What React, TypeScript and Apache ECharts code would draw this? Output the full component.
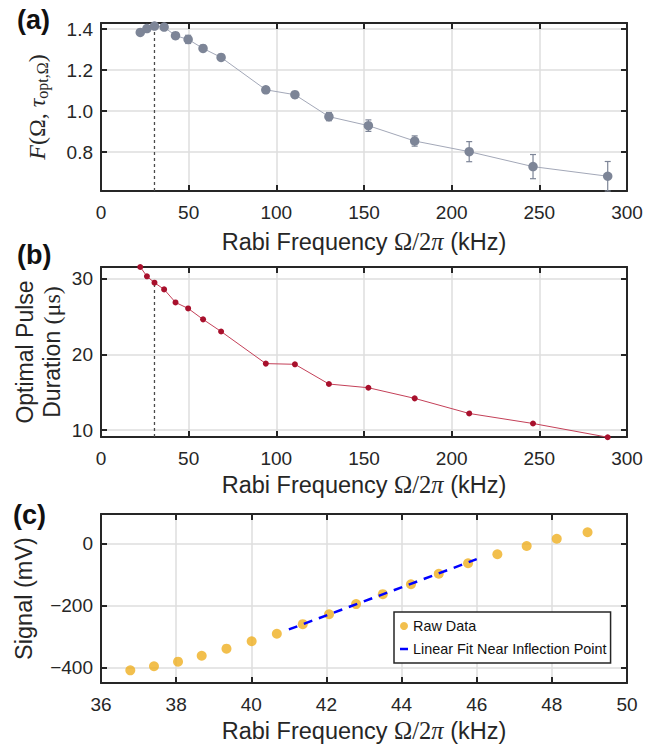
import React, { useEffect, useRef } from "react";
import * as echarts from "echarts";

// Panel (a)/(b): Rabi frequency (kHz)
const freqA = [22.4, 26.2, 30.5, 36.0, 42.5, 49.7, 58.2, 68.5, 94.0, 110.6, 130.0, 152.5, 178.9, 210.0, 246.4, 289.0];
const fidelity = [1.384, 1.403, 1.415, 1.41, 1.368, 1.35, 1.306, 1.262, 1.104, 1.08, 0.973, 0.929, 0.854, 0.802, 0.729, 0.682];
const fidErr = [0.01, 0.008, 0.008, 0.01, 0.015, 0.02, 0.015, 0.012, 0.015, 0.015, 0.02, 0.028, 0.025, 0.049, 0.059, 0.072];
const pulse = [31.5, 30.27, 29.43, 28.55, 26.83, 26.04, 24.6, 23.0, 18.77, 18.68, 16.08, 15.59, 14.19, 12.2, 10.88, 9.07];
const optIndex = 2; // optimum marked with dashed line

// Panel (c)
const sigF = [36.78, 37.41, 38.05, 38.68, 39.34, 40.01, 40.68, 41.37, 42.07, 42.79, 43.5, 44.25, 44.99, 45.77, 46.55, 47.33, 48.13, 48.95];
const sigV = [-409, -396, -381, -362, -339, -315, -291, -260, -228, -195, -163, -131, -97, -63, -34, -7.5, 16, 37];
const fitF = [41.0, 46.0];
const fitV = [-277, -50];

// Axis extents
const xA = [0, 300];
const yA = [0.61, 1.43];
const yB = [9.1, 31.5];
const xC = [36, 50];
const yC = [-450, 96];

const FONT = "'Liberation Sans', Arial, Helvetica, sans-serif";
const SERIF = "'Liberation Serif', 'DejaVu Serif', serif";
const INK = "#262626";
const GRIDC = "#dedede";
const NAME_SIZE = 23.5;

function axisX(gi: number, min: number, max: number, interval: number, top: boolean, name?: any, rich?: any, nameGap = 40) {
  return {
    type: "value",
    gridIndex: gi,
    position: top ? "top" : "bottom",
    min,
    max,
    interval,
    axisLine: { show: true, onZero: false, lineStyle: { color: INK, width: 2 } },
    axisTick: { show: true, inside: true, length: 6, lineStyle: { color: INK, width: 2 } },
    axisLabel: { show: !top, color: INK, fontSize: 19, fontFamily: FONT, margin: 12 },
    splitLine: { show: !top, lineStyle: { color: GRIDC, width: 1.5 } },
    name: top ? "" : name,
    nameLocation: "middle",
    nameGap,
    nameMoveOverlap: false,
    nameTextStyle: { color: INK, fontSize: NAME_SIZE, fontFamily: FONT, rich },
  };
}

function axisY(gi: number, min: number, max: number, split: number, right: boolean, fmt?: (v: number) => string, name?: any, rich?: any, nameGap = 50, lineHeight = 27) {
  return {
    type: "value",
    gridIndex: gi,
    position: right ? "right" : "left",
    min,
    max,
    splitNumber: split,
    axisLine: { show: true, onZero: false, lineStyle: { color: INK, width: 2 } },
    axisTick: { show: true, inside: true, length: 6, lineStyle: { color: INK, width: 2 } },
    axisLabel: {
      show: !right,
      showMinLabel: false,
      showMaxLabel: false,
      color: INK,
      fontSize: 19,
      fontFamily: FONT,
      margin: 8,
      formatter: fmt,
    },
    splitLine: { show: !right, lineStyle: { color: GRIDC, width: 1.5 } },
    name: right ? "" : name,
    nameLocation: "middle",
    nameRotate: 90,
    nameGap,
    nameMoveOverlap: false,
    nameTextStyle: { color: INK, fontSize: NAME_SIZE, fontFamily: FONT, lineHeight, rich },
  };
}

const xName = "{a|Rabi Frequency }{s|Ω/2}{p|π}{a| (kHz)}";
const xRich = {
  a: { fontFamily: FONT, fontSize: NAME_SIZE, color: INK },
  s: { fontFamily: SERIF, fontSize: 24.5, color: INK },
  p: { fontFamily: SERIF, fontSize: 24.5, fontStyle: "italic", color: INK },
};

export default function App() {
  const ref = useRef<HTMLDivElement>(null);
  useEffect(() => {
    const chart = echarts.init(ref.current!, null, { renderer: "svg" });
    const errData = freqA.map((f, i) => [f, fidelity[i] - fidErr[i], fidelity[i] + fidErr[i]]);
    const gridBase = { containLabel: false, outerBoundsMode: "none" };
    const option: any = {
      animation: false,
      backgroundColor: "#ffffff",
      textStyle: { fontFamily: FONT },
      grid: [
        { ...gridBase, left: 101, top: 23, width: 526, height: 168 },
        { ...gridBase, left: 101, top: 267, width: 526, height: 170 },
        { ...gridBase, left: 101, top: 514, width: 526, height: 169 },
      ],
      xAxis: [
        axisX(0, xA[0], xA[1], 50, false, xName, xRich, 38),
        axisX(0, xA[0], xA[1], 50, true),
        axisX(1, xA[0], xA[1], 50, false, xName, xRich, 35),
        axisX(1, xA[0], xA[1], 50, true),
        axisX(2, xC[0], xC[1], 2, false, xName, xRich, 35),
        axisX(2, xC[0], xC[1], 2, true),
      ],
      yAxis: [
        axisY(0, yA[0], yA[1], 4, false, (v: number) => v.toFixed(1),
          "{i|F}{r|(Ω, }{i|τ}{s|opt,Ω}{r|)}",
          {
            i: { fontFamily: SERIF, fontStyle: "italic", fontSize: 24, color: INK },
            r: { fontFamily: SERIF, fontSize: 24, color: INK },
            s: { fontFamily: SERIF, fontSize: 16, color: INK, verticalAlign: "bottom", padding: [11, 0, 0, 0] },
          }, 51),
        axisY(0, yA[0], yA[1], 4, true),
        axisY(1, yB[0], yB[1], 2, false, (v: number) => String(v),
          "{a|Optimal Pulse}\n{a|Duration }{m|(μs)}",
          {
            a: { fontFamily: FONT, fontSize: 23, color: INK, lineHeight: 27 },
            m: { fontFamily: SERIF, fontSize: 24, color: INK, lineHeight: 27 },
          }, 36, 27),
        axisY(1, yB[0], yB[1], 2, true),
        axisY(2, yC[0], yC[1], 3, false, (v: number) => String(v).replace("-", "\u2212"),
          "Signal (mV)", undefined, 64),
        axisY(2, yC[0], yC[1], 3, true),
      ],
      legend: {
        left: 394,
        top: 612,
        orient: "vertical",
        data: [
          { name: "Raw Data", icon: "circle" },
          { name: "Linear Fit Near Inflection Point", icon: "path://M0,0H8V2.5H0Z" },
        ],
        itemWidth: 8,
        itemHeight: 8,
        itemGap: 9,
        borderColor: INK,
        borderWidth: 1.5,
        borderRadius: 0,
        backgroundColor: "#ffffff",
        padding: [7, 4, 7, 6],
        textStyle: { fontSize: 14.4, fontFamily: FONT, color: "#111" },
      },
      graphic: [
        { type: "text", left: 17, top: 6, style: { text: "(a)", fontSize: 27, fontWeight: "bold", fontFamily: FONT, fill: "#111" } },
        { type: "text", left: 17, top: 241, style: { text: "(b)", fontSize: 27, fontWeight: "bold", fontFamily: FONT, fill: "#111" } },
        { type: "text", left: 13, top: 501, style: { text: "(c)", fontSize: 27, fontWeight: "bold", fontFamily: FONT, fill: "#111" } },
      ],
      series: [
        // (a) dashed marker
        {
          type: "line",
          xAxisIndex: 0,
          yAxisIndex: 0,
          data: [[freqA[optIndex], yA[0]], [freqA[optIndex], fidelity[optIndex]]],
          symbol: "none",
          lineStyle: { color: "#4a4a4a", width: 1.3, type: [3, 3] },
          z: 2,
          silent: true,
        },
        {
          type: "custom",
          xAxisIndex: 0,
          yAxisIndex: 0,
          data: errData,
          encode: { x: 0, y: [1, 2] },
          clip: false,
          z: 3,
          renderItem: (params: any, api: any) => {
            const x = api.value(0);
            const p1 = api.coord([x, api.value(1)]);
            const p2 = api.coord([x, api.value(2)]);
            const style = { stroke: "#7d8597", lineWidth: 1.2 };
            return {
              type: "group",
              children: [
                { type: "line", shape: { x1: p1[0], y1: p1[1], x2: p2[0], y2: p2[1] }, style },
                { type: "line", shape: { x1: p1[0] - 3, y1: p1[1], x2: p1[0] + 3, y2: p1[1] }, style },
                { type: "line", shape: { x1: p2[0] - 3, y1: p2[1], x2: p2[0] + 3, y2: p2[1] }, style },
              ],
            };
          },
        },
        {
          type: "line",
          xAxisIndex: 0,
          yAxisIndex: 0,
          data: freqA.map((f, i) => [f, fidelity[i]]),
          symbol: "circle",
          symbolSize: 9.5,
          itemStyle: { color: "#7d8597" },
          lineStyle: { color: "#a3a8b8", width: 1 },
          clip: false,
          z: 4,
        },
        // (b)
        {
          type: "line",
          xAxisIndex: 2,
          yAxisIndex: 2,
          data: [[freqA[optIndex], yB[0]], [freqA[optIndex], pulse[optIndex]]],
          symbol: "none",
          lineStyle: { color: "#4a4a4a", width: 1.3, type: [3, 3] },
          z: 2,
          silent: true,
        },
        {
          type: "line",
          xAxisIndex: 2,
          yAxisIndex: 2,
          data: freqA.map((f, i) => [f, pulse[i]]),
          symbol: "circle",
          symbolSize: 6,
          itemStyle: { color: "#a8102c" },
          lineStyle: { color: "#c44058", width: 1 },
          clip: false,
          z: 4,
        },
        // (c)
        {
          name: "Raw Data",
          type: "scatter",
          xAxisIndex: 4,
          yAxisIndex: 4,
          data: sigF.map((f, i) => [f, sigV[i]]),
          symbol: "circle",
          symbolSize: 10,
          itemStyle: { color: "#efaf20" },
          clip: false,
          z: 4,
        },
        {
          name: "Linear Fit Near Inflection Point",
          type: "line",
          xAxisIndex: 4,
          yAxisIndex: 4,
          data: fitF.map((f, i) => [f, fitV[i]]),
          symbol: "none",
          itemStyle: { color: "#0000ff" },
          lineStyle: { color: "#0000ff", width: 2.5, type: [9, 7] },
          z: 5,
        },
      ],
    };
    chart.setOption(option);
    return () => chart.dispose();
  }, []);
  return (
    <div
      ref={ref}
      style={{ position: "absolute", left: 0, top: 0, width: 664, height: 747, background: "#fff" }}
    />
  );
}
